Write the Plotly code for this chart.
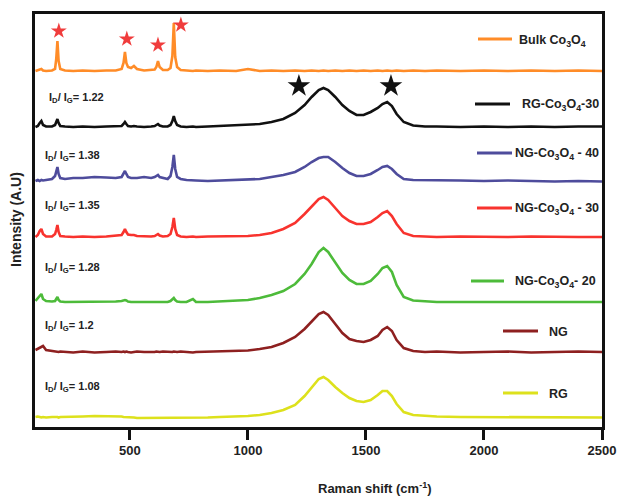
import plotly.graph_objects as go

# ---------------- data ----------------
SHIFT_LOW = [100, 110, 118, 125, 132, 145, 170, 183, 188, 193, 198, 205, 225, 260, 300, 350, 400, 440,
             465, 473, 479, 485, 492, 505, 517, 530, 560, 590, 605, 612, 619, 626, 640, 660, 672, 680,
             686, 692, 700, 715, 740, 767, 780, 830, 880, 950]
SHIFT_HIGH = [1000, 1050, 1100, 1150, 1200, 1240, 1270, 1300, 1320, 1340, 1370, 1400, 1430, 1460, 1490,
              1520, 1550, 1570, 1590, 1610, 1630, 1660, 1700, 1750, 1800, 1900, 2000, 2100, 2200, 2300,
              2400, 2500]

bulk_low = [0, 0.5, 1, 2, 0.5, 0, 0.5, 2, 12, 30, 10, 2, 0.5, 0, 0.5, 0, 0.5, 0.5, 2, 8, 19, 8, 4, 3, 5, 2,
            0.5, 1, 1.5, 4, 10, 4, 1, 1, 3, 15, 48, 14, 4, 1, 0.5, 0, 0.5, 0, 0.5, 0]
bulk_high = [2, 0, 0.5, 0, 0.5, 0, 0.5, 0, 0.5, 0, 0.5, 0, 0.5, 0, 0.5, 0, 0.5, 0, 0.5, 0, 0.5, 0, 0.5, 0,
             0.5, 0, 0.5, 0, 0.5, 0, 0.5, 0]

rg30_low = [0, 1, 4, 6, 2, 0.5, 0.5, 2, 5, 8, 4, 1, 0.5, 0, 0.5, 0, 0.5, 0.5, 1, 3, 5, 3, 1, 0.5, 1, 0.5,
            0, 0.5, 1, 2, 3, 1.5, 0.5, 0.5, 2, 6, 11, 6, 2, 0.5, 0, 0.5, 0, 0.5, 1, 1.5]
rg30_high = [2, 3, 5, 8, 14, 22, 30, 37, 39, 37, 30, 22, 16, 12, 12, 15, 19, 23, 25, 21, 13, 5, 1.5, 0.5,
             0.5, 0, 0.5, 0, 0.5, 0, 0.5, 0.5]

ng40_low = [0, 1, 0, 1, 0.5, 1, 2, 5, 9, 14, 7, 3, 2, 3, 3, 4, 3.5, 3, 4, 7, 10, 7, 4, 3, 3, 3, 4, 3, 4, 5,
            6, 4, 3, 2, 5, 14, 26, 12, 4, 2, 1, 1, 0.5, 0, 0.5, 0.5]
ng40_high = [1, 2, 4, 6, 9, 14, 19, 23, 24, 24, 19, 13, 8, 5, 5, 7, 11, 14, 15, 12, 7, 2, 1, 1, 0.5, 0.5,
             0, 0.5, 0, -0.5, 0, -0.5]

ng30_low = [0, 2, 6, 8, 3, 0.5, 0.5, 3, 7, 12, 5, 1, 0.5, 0, 0.5, 0, 0.5, 1, 2, 5, 8, 5, 2.5, 2, 2, 1, 0.5,
            0.5, 1, 2, 3, 1.5, 0.5, 1, 3, 10, 19, 8, 2, 0.5, 0, 0.5, 0, 0.5, 0.5, 1]
ng30_high = [1, 2, 4, 8, 14, 23, 31, 38, 40, 37, 29, 21, 16, 13, 13, 15, 20, 24, 26, 21, 13, 4, 1, 0.5, 0,
             0.5, 0, 0, 0.5, 0, 0, 0]

ng20_low = [1, 4, 7, 8, 3, 1, 0.5, 1, 3, 5, 2, 0.5, 0, 0, 0.5, 0, 0, 0.5, 1, 2, 2, 1.5, 0.5, 0, 0, 0, 0, 0,
            0, 0, 0.5, 0, 0, 0, 1, 3, 4, 2, 0.5, 0, 0, 3, 0, 0, 0.5, 1]
ng20_high = [2, 4, 7, 11, 18, 28, 38, 50, 54, 50, 39, 29, 22, 18, 18, 21, 28, 34, 36, 30, 17, 5, 1.5, 0.5,
             0, 0, 0, 0, 0, 0, 0, 0]

ng_low = [2, 3, 4, 5, 6, 2, 1, 0.5, 1, 0.5, 0, 0.5, 0, -0.5, 0.5, -0.5, 0, 0.5, 0, 0.5, 0, 0.5, 0, -0.5, 0,
          0.5, 0, -0.5, 0, 0.5, 0, 0, 0.5, 0, -0.5, 0, 0.5, 0, 0, 0.5, 0, -0.5, 0, 0.5, 0.5, 1]
ng_high = [1.5, 3, 5, 9, 15, 23, 31, 38, 40, 37, 28, 19, 13, 11, 10, 12, 16, 22, 25, 21, 12, 4, 1, 0, 0.5,
           -0.5, 0, 0.5, -0.5, 0, 0.5, 0]

rg_low = [1, 1.5, 1, 0.5, 1, 0.5, 1, 0.5, 1, 1, 0.5, 1, 1, 1.5, 1.5, 2, 2, 2, 1.5, 1, 1, 1, 0.5, 0.5, 0.5,
          0, 0, 0, 0, 0, 0, 0, 0, 0, 0, 0, 0, 0, 0, 0, 0, 0, 0.5, 0.5, 1, 1.5]
rg_high = [2, 3, 5, 8, 13, 22, 31, 39, 41, 38, 31, 25, 20, 17, 16, 18, 23, 27, 27, 22, 14, 6, 3, 2, 1.5, 1,
           1, 1, 0.5, 0.5, 0.5, 0.5]

SERIES_NAMES = ["Bulk Co<sub>3</sub>O<sub>4</sub>", "RG-Co<sub>3</sub>O<sub>4</sub>-30",
                "NG-Co<sub>3</sub>O<sub>4</sub> - 40", "NG-Co<sub>3</sub>O<sub>4</sub> - 30",
                "NG-Co<sub>3</sub>O<sub>4</sub>- 20", "NG", "RG"]
SERIES_LOW = [bulk_low, rg30_low, ng40_low, ng30_low, ng20_low, ng_low, rg_low]
SERIES_HIGH = [bulk_high, rg30_high, ng40_high, ng30_high, ng20_high, ng_high, rg_high]
OFFSETS = [356, 300, 246, 190, 125, 75, 9]
RATIO_LABELS = [None, "1.22", "1.38", "1.35", "1.28", "1.2", "1.08"]

CO3O4_STAR_X = [199, 487, 619, 716]
CO3O4_STAR_Y = [396, 388, 382, 402]
DG_STAR_X = [1216, 1606]
DG_STAR_Y = [341, 341]

# ---------------- styling ----------------
COLORS = ["#FF8C28", "#111111", "#4E4C9C", "#F8332E", "#4DBB3A", "#8E2020", "#DDE11C"]
FONT = "Liberation Sans, Arial, sans-serif"
TXT = "#222222"

# plot area in pixels
L, R, T, B = 35, 602, 14, 427
W, H = 618, 497


def px(xp):
    return (xp - L) / (R - L)


def py(yp):
    return (B - yp) / (B - T)


fig = go.Figure()
shift = SHIFT_LOW + SHIFT_HIGH
for name, lo, hi, off, col in zip(SERIES_NAMES, SERIES_LOW, SERIES_HIGH, OFFSETS, COLORS):
    vals = lo + hi
    assert len(vals) == len(shift), name
    fig.add_trace(go.Scatter(x=shift, y=[v + off for v in vals], mode="lines",
                             line=dict(color=col, width=2.6), name=name, showlegend=False,
                             hoverinfo="skip"))

fig.add_trace(go.Scatter(x=CO3O4_STAR_X, y=CO3O4_STAR_Y, mode="markers",
                         marker=dict(symbol="star", size=12, color="#F03C3C", line=dict(width=0)),
                         showlegend=False, hoverinfo="skip"))
fig.add_trace(go.Scatter(x=DG_STAR_X, y=DG_STAR_Y, mode="markers",
                         marker=dict(symbol="star", size=17, color="#111111", line=dict(width=0)),
                         showlegend=False, hoverinfo="skip"))

# legend drawn manually (px positions)
LEG_LINE = [(478, 512, 39), (475, 510, 104), (477, 512, 153), (477, 512, 208), (471, 504, 281),
            (503, 538, 331), (503, 538, 393)]
LEG_TEXT = [(517, 40), (520, 104), (513, 153), (513, 208), (513, 281), (547, 331), (547, 393)]

shapes = []
annotations = []
for (x0, x1, yl), (xt, yt), name, col in zip(LEG_LINE, LEG_TEXT, SERIES_NAMES, COLORS):
    shapes.append(dict(type="line", xref="paper", yref="paper", x0=px(x0), x1=px(x1), y0=py(yl), y1=py(yl),
                       line=dict(color=col, width=3)))
    annotations.append(dict(xref="paper", yref="paper", x=px(xt), y=py(yt + 1), text=name, showarrow=False,
                            xanchor="left", yanchor="middle",
                            font=dict(family=FONT, size=12.5, color=TXT, weight="bold")))

RATIO_POS = [None, (47, 98), (43, 156), (43, 206), (43, 268), (43, 326), (43, 387)]
for lab, pos in zip(RATIO_LABELS, RATIO_POS):
    if lab is None:
        continue
    annotations.append(dict(xref="paper", yref="paper", x=px(pos[0]), y=py(pos[1]),
                            text="I<sub>D</sub>/ I<sub>G</sub>= " + lab, showarrow=False,
                            xanchor="left", yanchor="middle",
                            font=dict(family=FONT, size=11, color=TXT, weight="bold")))

annotations.append(dict(xref="paper", yref="paper", x=px(16), y=py(220), text="Intensity (A.U)",
                        showarrow=False, textangle=-90, xanchor="center", yanchor="middle",
                        font=dict(family=FONT, size=14, color=TXT, weight="bold")))
annotations.append(dict(xref="paper", yref="paper", x=px(375), y=py(488), text="Raman shift (cm<sup>-1</sup>)",
                        showarrow=False, xanchor="center", yanchor="middle",
                        font=dict(family=FONT, size=13, color=TXT, weight="bold")))

fig.update_layout(
    width=W, height=H,
    margin=dict(l=L, r=W - R, t=T, b=H - B, pad=0, autoexpand=False),
    paper_bgcolor="white", plot_bgcolor="white",
    shapes=shapes, annotations=annotations,
    xaxis=dict(range=[98, 2500], tickvals=[500, 1000, 1500, 2000, 2500], ticks="outside", ticklen=10,
               tickwidth=2.5, tickcolor="#111111", showline=True, linewidth=2.5, linecolor="#111111",
               mirror=True, showgrid=False, zeroline=False, automargin=False,
               tickfont=dict(family=FONT, size=13, color=TXT, weight="bold")),
    yaxis=dict(range=[0, B - T], showticklabels=False, ticks="", showline=True, linewidth=2.5,
               linecolor="#111111", mirror=True, showgrid=False, zeroline=False, automargin=False),
)

fig.write_html("out.html")
